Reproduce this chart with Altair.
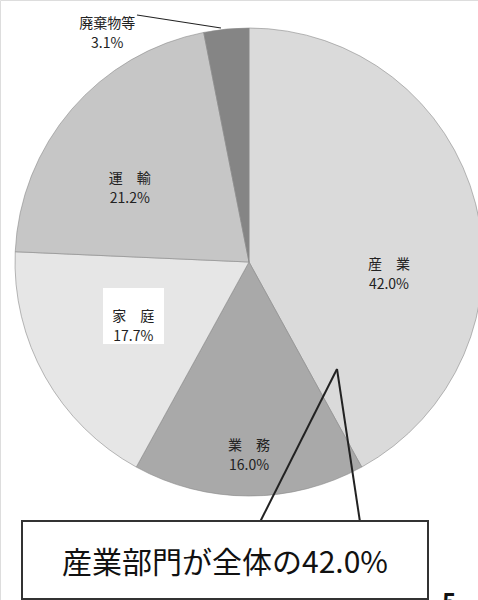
import altair as alt
import pandas as pd

# ---- data ----
categories = ["産業", "業務", "家庭", "運輸", "廃棄物等"]
display_names = ["産　業", "業　務", "家　庭", "運　輸", "廃棄物等"]
shares = [42.0, 16.0, 17.7, 21.2, 3.1]
callout_text = "産業部門が全体の42.0%"
page_number = "5"

# ---- styles ----
colors = ["#dadada", "#a9a9a9", "#e6e6e6", "#c6c6c6", "#858585"]
label_radius = {"産業": 140, "業務": 184, "家庭": 128, "運輸": 145, "廃棄物等": 277}
label_shift_deg = {"産業": 15.8, "業務": 0, "家庭": 4, "運輸": -6, "廃棄物等": -25.2}
FONT = "Noto Sans CJK JP"
CX, CY, R = 249, 262, 234

df = pd.DataFrame({
    "cat": categories,
    "share": shares,
    "ord": list(range(len(categories))),
    "txt": [f"{n}\n{v:.1f}%" for n, v in zip(display_names, shares)],
})
df["lr"] = df["cat"].map(label_radius)
df["shift"] = df["cat"].map(label_shift_deg)

base = alt.Chart(df)

pie = base.mark_arc(outerRadius=R, stroke="#8a8a8a", strokeWidth=0.6).encode(
    theta=alt.Theta("share:Q", stack=True),
    color=alt.Color("cat:N", scale=alt.Scale(domain=categories, range=colors), legend=None),
    order=alt.Order("ord:Q"),
    x=alt.value(CX),
    y=alt.value(CY),
)

labels = (
    base.transform_joinaggregate(total="sum(share)")
    .transform_window(cum="sum(share)", sort=[alt.SortField("ord")], frame=[None, 0])
    .transform_calculate(
        ang="(datum.cum - datum.share/2)/datum.total*2*PI + datum.shift*PI/180"
    )
    .mark_text(font=FONT, fontSize=14, lineBreak="\n", lineHeight=20,
               color="#222", align="center", baseline="middle")
    .encode(
        theta=alt.Theta("ang:Q", scale=None, stack=False),
        radius=alt.Radius("lr:Q", scale=None),
        text="txt:N",
        x=alt.value(CX),
        y=alt.value(CY),
    )
)

one = alt.Chart(pd.DataFrame({"k": [0]}))

home_box = one.mark_rect(fill="white").encode(
    x=alt.value(103), x2=alt.value(164), y=alt.value(288), y2=alt.value(344)
)

leader = one.mark_rule(color="#222", strokeWidth=1.2).encode(
    x=alt.value(137), y=alt.value(15), x2=alt.value(221), y2=alt.value(28)
)

pointer_left = one.mark_rule(color="#222", strokeWidth=2).encode(
    x=alt.value(260), y=alt.value(522), x2=alt.value(337), y2=alt.value(369)
)
pointer_right = one.mark_rule(color="#222", strokeWidth=2).encode(
    x=alt.value(360), y=alt.value(522), x2=alt.value(337), y2=alt.value(369)
)

callout_box = one.mark_rect(fill="white", stroke="#333", strokeWidth=2).encode(
    x=alt.value(22), x2=alt.value(428), y=alt.value(521), y2=alt.value(599)
)

callout = one.mark_text(font=FONT, fontSize=30, color="#111",
                        align="center", baseline="middle").encode(
    x=alt.value(225), y=alt.value(564), text=alt.value(callout_text)
)

page = one.mark_text(font=FONT, fontSize=24, fontWeight="bold", color="#111",
                     align="left", baseline="top").encode(
    x=alt.value(442), y=alt.value(592), text=alt.value(page_number)
)

chart = alt.layer(
    pie, home_box, labels, leader, pointer_left, pointer_right,
    callout_box, callout, page
).properties(
    width=478, height=600, padding=0,
    autosize=alt.AutoSizeParams(type="none"),
).configure_view(stroke=None).configure(background="white")

chart.save("out.html", embed_options={"renderer": "svg", "actions": False})
